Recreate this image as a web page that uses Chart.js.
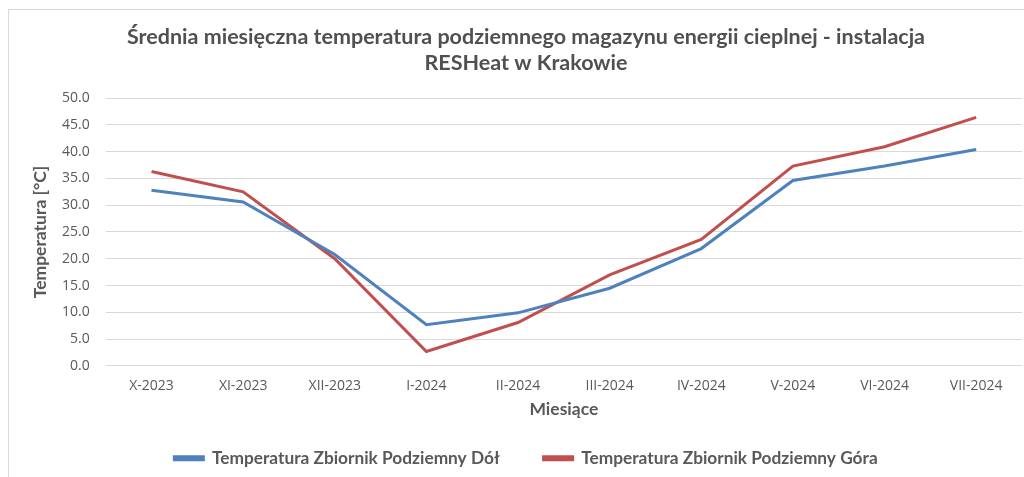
<!DOCTYPE html>
<html>
<head>
<meta charset="utf-8">
<script src="https://cdn.jsdelivr.net/npm/chart.js@4/dist/chart.umd.min.js"></script>
<style>
    body { margin: 0; background: #fff; overflow: hidden; }
    #wrap { position: relative; width: 1024px; height: 477px; }
    #frame { position: absolute; left: 8px; top: 9px; width: 1100px; height: 600px; border: 1px solid #d9d9d9; }
    #chart { position: absolute; left: 0; top: 0; }
</style>
</head>
<body>
<div id="wrap">
    <div id="frame"></div>
    <canvas id="chart" width="1024" height="477"></canvas>
</div>
<script>
const months = ["X-2023", "XI-2023", "XII-2023", "I-2024", "II-2024", "III-2024", "IV-2024", "V-2024", "VI-2024", "VII-2024"];
const tempBottom = [32.8, 30.6, 20.8, 7.7, 9.9, 14.5, 21.9, 34.6, 37.3, 40.4];
const tempTop = [36.3, 32.5, 20.0, 2.7, 8.1, 17.0, 23.6, 37.3, 40.9, 46.4];
const titleLines = ["Średnia miesięczna temperatura podziemnego magazynu energii cieplnej - instalacja", "RESHeat w Krakowie"];

const textColor = "#595959";
const gridColor = "#d9d9d9";

document.addEventListener("DOMContentLoaded", () => {
    const ctx = document.getElementById("chart").getContext("2d");

    new Chart(ctx, {
        type: "line",
        data: {
            labels: months,
            datasets: [{
                label: "Temperatura Zbiornik Podziemny Dół",
                data: tempBottom,
                borderColor: "#4f81bd",
                backgroundColor: "#4f81bd",
                borderWidth: 3,
                pointRadius: 0,
                tension: 0
            }, {
                label: "Temperatura Zbiornik Podziemny Góra",
                data: tempTop,
                borderColor: "#c0504d",
                backgroundColor: "#c0504d",
                borderWidth: 3,
                pointRadius: 0,
                tension: 0
            }]
        },
        options: {
            responsive: false,
            animation: false,
            layout: {
                padding: { left: 30, right: 2, top: 0, bottom: 0 }
            },
            plugins: {
                title: {
                    display: true,
                    text: titleLines,
                    color: "#505050",
                    font: { family: "Lato", size: 21.5, weight: "bold", lineHeight: 1.21 },
                    padding: { top: 24, bottom: 22 }
                },
                legend: {
                    position: "bottom",
                    labels: {
                        color: textColor,
                        font: { family: "Lato", size: 17.3, weight: "bold", lineHeight: 1.1 },
                        boxWidth: 29,
                        boxHeight: 3,
                        padding: 44
                    }
                },
                tooltip: { enabled: false }
            },
            scales: {
                x: {
                    offset: true,
                    grid: { display: false, drawTicks: false },
                    border: { display: false },
                    ticks: {
                        color: textColor,
                        font: { family: "Open Sans", size: 14 },
                        maxRotation: 0,
                        padding: 12
                    },
                    title: {
                        display: true,
                        text: "Miesiące",
                        color: textColor,
                        font: { family: "Lato", size: 17.5, weight: "bold" },
                        padding: { top: -8, bottom: -14 }
                    }
                },
                y: {
                    min: 0,
                    max: 50,
                    grid: { color: gridColor, lineWidth: 1, drawTicks: false },
                    border: { display: false },
                    ticks: {
                        stepSize: 5,
                        color: textColor,
                        font: { family: "Open Sans", size: 14 },
                        padding: 16,
                        callback: (v) => v.toFixed(1)
                    },
                    title: {
                        display: true,
                        text: "Temperatura [°C]",
                        color: textColor,
                        font: { family: "Lato", size: 17.5, weight: "bold" },
                        padding: { top: 0, bottom: -5 }
                    }
                }
            }
        }
    });
});
</script>
</body>
</html>
